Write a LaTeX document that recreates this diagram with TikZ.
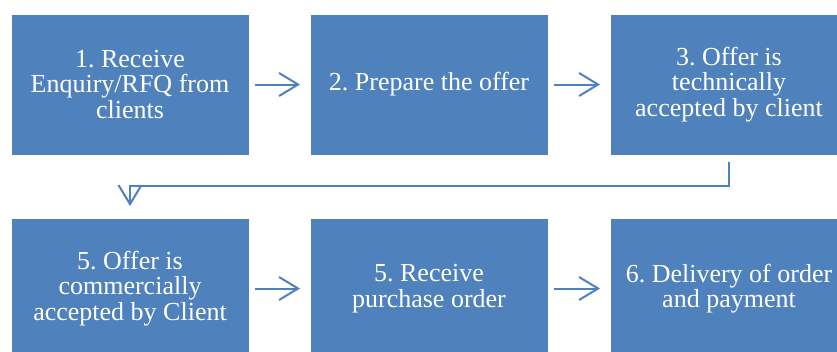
\documentclass[tikz,border=0pt]{standalone}
\usepackage{fontspec}
\setmainfont{Liberation Serif}
\usetikzlibrary{arrows.meta}
\definecolor{stageblue}{HTML}{4F81BD}
\frenchspacing
\tikzset{
  stage/.style={rectangle, fill=stageblue, draw=white, line width=0.6pt,
    minimum width=238pt, minimum height=141pt, inner sep=0pt, outer sep=0pt,
    text=white, align=center, font=\fontsize{26}{25.5}\selectfont},
  flow/.style={draw=stageblue, line width=2pt,
    -{Straight Barb[length=19pt,width=23pt]}}
}
\begin{document}
\begin{tikzpicture}[x=1pt,y=-1pt]
      \useasboundingbox (0,0) rectangle (837,351);
      \clip (0,0) rectangle (837,351);
      \draw
        (130,84.5) node[stage] (b1){1. Receive\\Enquiry/RFQ from\\clients}
        (429,84.5) node[stage] (b2){2. Prepare the offer}
        (729,84.5) node[stage] (b3){3. Offer is\\technically\\accepted by client}
        (130,288.5) node[stage] (b4){5. Offer is\\commercially\\accepted by Client}
        (429,288.5) node[stage] (b5){5. Receive\\purchase order}
        (729,288.5) node[stage] (b6){6. Delivery of order\\and payment};
      \begin{scope}[flow, shorten <=6pt, shorten >=10pt]
        \draw (b1) to (b2);
        \draw (b2) to (b3);
        \draw (b4) to (b5);
        \draw (b5) to (b6);
      \end{scope}
      \draw[flow, shorten <=7pt, shorten >=12pt] (b3.south) -- ++(0,31) -| (b4.north);
    \end{tikzpicture}
\end{document}
